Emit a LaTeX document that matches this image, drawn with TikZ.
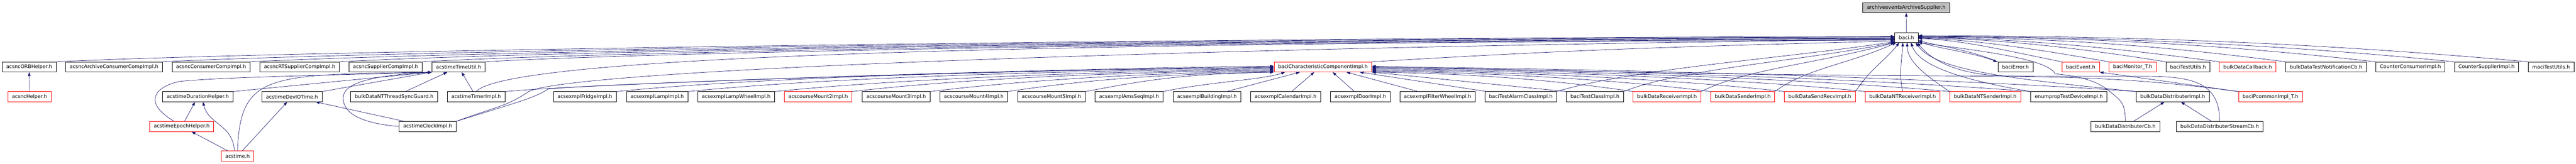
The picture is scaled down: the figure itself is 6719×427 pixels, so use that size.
\documentclass[tikz,border=0pt]{standalone}
\usepackage{fontspec}
\usetikzlibrary{arrows.meta}
\newfontfamily\filefont{DejaVu Sans}
\definecolor{edgeblue}{HTML}{191970}
\definecolor{rootgray}{HTML}{BFBFBF}
\begin{document}
\begin{tikzpicture}[x=0.75pt,y=-0.75pt,
  filebox/.style={draw=black,fill=white,line width=0.75pt,minimum height=19.5pt,inner xsep=8pt,inner ysep=0pt,font=\filefont\fontsize{9.75pt}{11pt}\selectfont},
  redbox/.style={filebox,draw=red},
  rootbox/.style={filebox,fill=rootgray},
  incl/.style={draw=edgeblue,line width=0.7pt,-{Triangle[length=7.5pt,width=5.2pt]}}]
\useasboundingbox (0,0) rectangle (6719,427);
\node[rootbox] (arch) at (4972,20) {archiveeventsArchiveSupplier.h};
\node[filebox] (baci) at (4972.5,97.5) {baci.h};
\node[filebox] (orbhelper) at (76,174.5) {acsncORBHelper.h};
\node[filebox] (archcons) at (297.5,174.5) {acsncArchiveConsumerCompImpl.h};
\node[filebox] (cons) at (550.5,174.5) {acsncConsumerCompImpl.h};
\node[filebox] (rtsupp) at (781.5,174.5) {acsncRTSupplierCompImpl.h};
\node[filebox] (supp) at (1005.5,174.5) {acsncSupplierCompImpl.h};
\node[filebox] (timeutil) at (1196,174.5) {acstimeTimeUtil.h};
\node[redbox] (charcomp) at (3450.5,174.5) {baciCharacteristicComponentImpl.h};
\node[filebox] (error) at (5257,174.5) {baciError.h};
\node[redbox] (event) at (5427,174.5) {baciEvent.h};
\node[redbox] (monitor) at (5562.5,174.5) {baciMonitor\_T.h};
\node[filebox] (testutils) at (5707,174.5) {baciTestUtils.h};
\node[redbox] (callback) at (5862.5,174.5) {bulkDataCallback.h};
\node[filebox] (notifcb) at (6067,174.5) {bulkDataTestNotificationCb.h};
\node[filebox] (cntcons) at (6287,174.5) {CounterConsumerImpl.h};
\node[filebox] (cntsupp) at (6485.5,174.5) {CounterSupplierImpl.h};
\node[filebox] (macitest) at (6654,174.5) {maciTestUtils.h};
\node[redbox] (helper) at (77,252) {acsncHelper.h};
\node[filebox] (duration) at (516,252) {acstimeDurationHelper.h};
\node[filebox] (deviotime) at (761.5,252) {acstimeDevIOTime.h};
\node[filebox] (syncguard) at (1028,252) {bulkDataNTThreadSyncGuard.h};
\node[filebox] (timer) at (1242,252) {acstimeTimerImpl.h};
\node[filebox] (fridge) at (1525.5,252) {acsexmplFridgeImpl.h};
\node[filebox] (lamp) at (1714,252) {acsexmplLampImpl.h};
\node[filebox] (lampwheel) at (1920,252) {acsexmplLampWheelImpl.h};
\node[redbox] (mount2) at (2134,252) {acscourseMount2Impl.h};
\node[filebox] (mount3) at (2337.5,252) {acscourseMount3Impl.h};
\node[filebox] (mount4) at (2540,252) {acscourseMount4Impl.h};
\node[filebox] (mount5) at (2742.5,252) {acscourseMount5Impl.h};
\node[filebox] (amsseq) at (2945,252) {acsexmplAmsSeqImpl.h};
\node[filebox] (building) at (3148,252) {acsexmplBuildingImpl.h};
\node[filebox] (calendar) at (3353,252) {acsexmplCalendarImpl.h};
\node[filebox] (door) at (3548,252) {acsexmplDoorImpl.h};
\node[filebox] (filterwheel) at (3749.5,252) {acsexmplFilterWheelImpl.h};
\node[filebox] (alarmclass) at (3966.5,252) {baciTestAlarmClassImpl.h};
\node[filebox] (testclass) at (4160,252) {baciTestClassImpl.h};
\node[redbox] (receiver) at (4348,252) {bulkDataReceiverImpl.h};
\node[redbox] (sender) at (4545.5,252) {bulkDataSenderImpl.h};
\node[redbox] (sendrecv) at (4746.5,252) {bulkDataSendRecvImpl.h};
\node[redbox] (ntreceiver) at (4962.5,252) {bulkDataNTReceiverImpl.h};
\node[redbox] (ntsender) at (5178,252) {bulkDataNTSenderImpl.h};
\node[filebox] (enumprop) at (5396,252) {enumpropTestDeviceImpl.h};
\node[filebox] (distimpl) at (5667,252) {bulkDataDistributerImpl.h};
\node[redbox] (pcommon) at (5922,252) {baciPcommonImpl\_T.h};
\node[redbox] (epoch) at (474,329.5) {acstimeEpochHelper.h};
\node[filebox] (clock) at (1115.5,329.5) {acstimeClockImpl.h};
\node[filebox] (distcb) at (5543.5,329.5) {bulkDataDistributerCb.h};
\node[filebox] (diststreamcb) at (5789.5,329.5) {bulkDataDistributerStreamCb.h};
\node[redbox] (acstime) at (619.5,406.5) {acstime.h};
\draw[incl] (baci) -- (arch);
\draw[incl] (orbhelper.north east) .. controls +(600,-30) and +(-1700,3) .. (baci.175);
\draw[incl] (archcons.north east) .. controls +(600,-30) and +(-1700,3) .. (baci.178);
\draw[incl] (cons.north east) .. controls +(550,-28) and +(-1700,3) .. (baci.181);
\draw[incl] (rtsupp.north east) .. controls +(500,-28) and +(-1700,3) .. (baci.184);
\draw[incl] (supp.north east) .. controls +(450,-26) and +(-1700,3) .. (baci.187);
\draw[incl] (timeutil.north east) .. controls +(400,-24) and +(-1700,3) .. (baci.190);
\draw[incl] (timer.north) .. controls +(100,-110) and +(-1700,5) .. (baci.193);
\draw[incl] (clock.north east) .. controls +(110,-40) and +(-60,40) .. (1380,238) .. controls +(120,-58) and +(-1800,20) .. (baci.190);
\draw[incl] (charcomp.north east) .. controls +(500,-30) and +(-600,15) .. (baci.197);
\draw[incl] (alarmclass.north east) .. controls +(200,-60) and +(-300,45) .. (baci.200);
\draw[incl] (testclass.north east) .. controls +(150,-60) and +(-250,50) .. (baci.203);
\draw[incl] (receiver.north east) .. controls +(120,-60) and +(-200,55) .. (baci.south west);
\draw[incl] (sender.north east) .. controls +(80,-60) and +(-120,55) .. ([xshift=-20pt]baci.south);
\draw[incl] (sendrecv.north east) .. controls +(40,-60) and +(-40,50) .. ([xshift=-14pt]baci.south);
\draw[incl] (ntreceiver.north) .. controls +(-10,-50) and +(-2,40) .. ([xshift=-7pt]baci.south);
\draw[incl] (ntsender.north west) .. controls +(-60,-40) and +(0,50) .. ([xshift=1.5pt]baci.south);
\draw[incl] (enumprop.north west) .. controls +(-180,-30) and +(20,60) .. ([xshift=9pt]baci.south);
\draw[incl] (distimpl.north west) .. controls +(-350,-35) and +(50,70) .. ([xshift=18pt]baci.south);
\draw[incl] (distcb.north) .. controls +(0,-50) and +(30,25) .. (5500,236) .. controls +(-40,-33) and +(40,5) .. (5360,192) .. controls +(-20,-40) and +(150,20) .. (baci.south east);
\draw[incl] (pcommon.north west) .. controls +(-300,-40) and +(150,5) .. (5230,198) .. controls +(-100,-3) and +(50,60) .. ([xshift=-2pt]baci.south east);
\draw[incl] (error.north west) .. controls +(-70,-30) and +(60,15) .. (baci.345);
\draw[incl] (baci.340) .. controls +(60,20) and +(-70,-26) .. ([xshift=-1.5pt]error.north west);
\draw[incl] (event.north west) .. controls +(-150,-30) and +(120,5) .. (baci.355);
\draw[incl] (monitor.north west) .. controls +(-200,-35) and +(150,5) .. (baci.357);
\draw[incl] (testutils.north west) .. controls +(-250,-40) and +(200,4) .. (baci.359);
\draw[incl] (callback.north west) .. controls +(-300,-40) and +(250,3) .. (baci.east);
\draw[incl] (notifcb.north west) .. controls +(-350,-45) and +(350,3) .. (baci.2);
\draw[incl] (cntcons.north west) .. controls +(-400,-45) and +(450,2) .. (baci.4);
\draw[incl] (cntsupp.north west) .. controls +(-450,-45) and +(500,2) .. (baci.6);
\draw[incl] (macitest.north west) .. controls +(-500,-45) and +(600,0) .. (baci.8);
\draw[incl] (pcommon.north west) -- (event.south east);
\draw[incl] (clock.north east) .. controls +(160,-50) and +(-40,25) .. (1430,232) .. controls +(60,-10) and +(-700,8) .. (charcomp.179);
\draw[incl] (timer.north east) .. controls +(250,-22) and +(-700,8) .. (charcomp.180);
\draw[incl] (fridge.north east) .. controls +(400,-40) and +(-600,5) .. (charcomp.181);
\draw[incl] (lamp.north east) .. controls +(400,-40) and +(-500,5) .. (charcomp.182);
\draw[incl] (lampwheel.north east) .. controls +(350,-35) and +(-450,5) .. (charcomp.183);
\draw[incl] (mount2.north east) .. controls +(300,-35) and +(-400,5) .. (charcomp.184);
\draw[incl] (mount3.north east) .. controls +(250,-30) and +(-350,5) .. (charcomp.185);
\draw[incl] (mount4.north east) .. controls +(200,-30) and +(-300,5) .. (charcomp.186);
\draw[incl] (mount5.north east) .. controls +(150,-28) and +(-250,5) .. (charcomp.south west);
\draw[incl] (amsseq.north east) .. controls +(120,-25) and +(-60,20) .. ([xshift=-74pt]charcomp.south);
\draw[incl] (building) -- ([xshift=-45pt]charcomp.south);
\draw[incl] (calendar) -- ([xshift=-17pt]charcomp.south);
\draw[incl] (door) -- ([xshift=19pt]charcomp.south);
\draw[incl] (filterwheel) -- ([xshift=46pt]charcomp.south);
\draw[incl] (alarmclass) -- ([xshift=72pt]charcomp.south);
\draw[incl] (testclass.north west) -- (charcomp.south east);
\draw[incl] (receiver.north west) .. controls +(-200,-30) and +(250,3) .. (charcomp.354);
\draw[incl] (sender.north west) .. controls +(-250,-32) and +(300,3) .. (charcomp.355);
\draw[incl] (sendrecv.north west) .. controls +(-300,-34) and +(350,3) .. (charcomp.356);
\draw[incl] (ntreceiver.north west) .. controls +(-350,-36) and +(400,3) .. (charcomp.357);
\draw[incl] (ntsender.north west) .. controls +(-400,-36) and +(450,3) .. (charcomp.358);
\draw[incl] (enumprop.north west) .. controls +(-450,-36) and +(500,3) .. (charcomp.359);
\draw[incl] (distimpl.north west) .. controls +(-500,-36) and +(550,3) .. (charcomp.east);
\draw[incl] (diststreamcb.north) .. controls +(0,-100) and +(120,0) .. (5600,199) .. controls +(-500,0) and +(900,25) .. (charcomp.1);
\draw[incl] (distcb) -- (distimpl);
\draw[incl] (diststreamcb) -- (distimpl);
\draw[incl] (helper) -- (orbhelper);
\draw[incl] (duration.north east) -- (timeutil.south west);
\draw[incl] (deviotime.north east) -- (timeutil.south west);
\draw[incl] (syncguard) -- (timeutil);
\draw[incl] (timer) -- (timeutil);
\draw[incl] ([xshift=-15pt]epoch.north) .. controls +(-84,-50) and +(-65,13) .. (470,212) .. controls +(120,-12) and +(-250,8) .. (timeutil.south west);
\draw[incl] (clock.west) .. controls +(-120,-10) and +(0,30) .. (895,255) .. controls +(0,-40) and +(-150,8) .. (timeutil.south west);
\draw[incl] (clock) -- (deviotime);
\draw[incl] (epoch) -- (duration);
\draw[incl] (acstime) -- (epoch);
\draw[incl] ([xshift=-6pt]acstime.north) .. controls +(-5,-70) and +(15,60) .. ([xshift=10pt]duration.south);
\draw[incl] (acstime) -- (deviotime);
\draw[incl] (acstime.north) .. controls +(7,-203) and +(-425,7) .. (timeutil.south west);
\end{tikzpicture}
\end{document}
